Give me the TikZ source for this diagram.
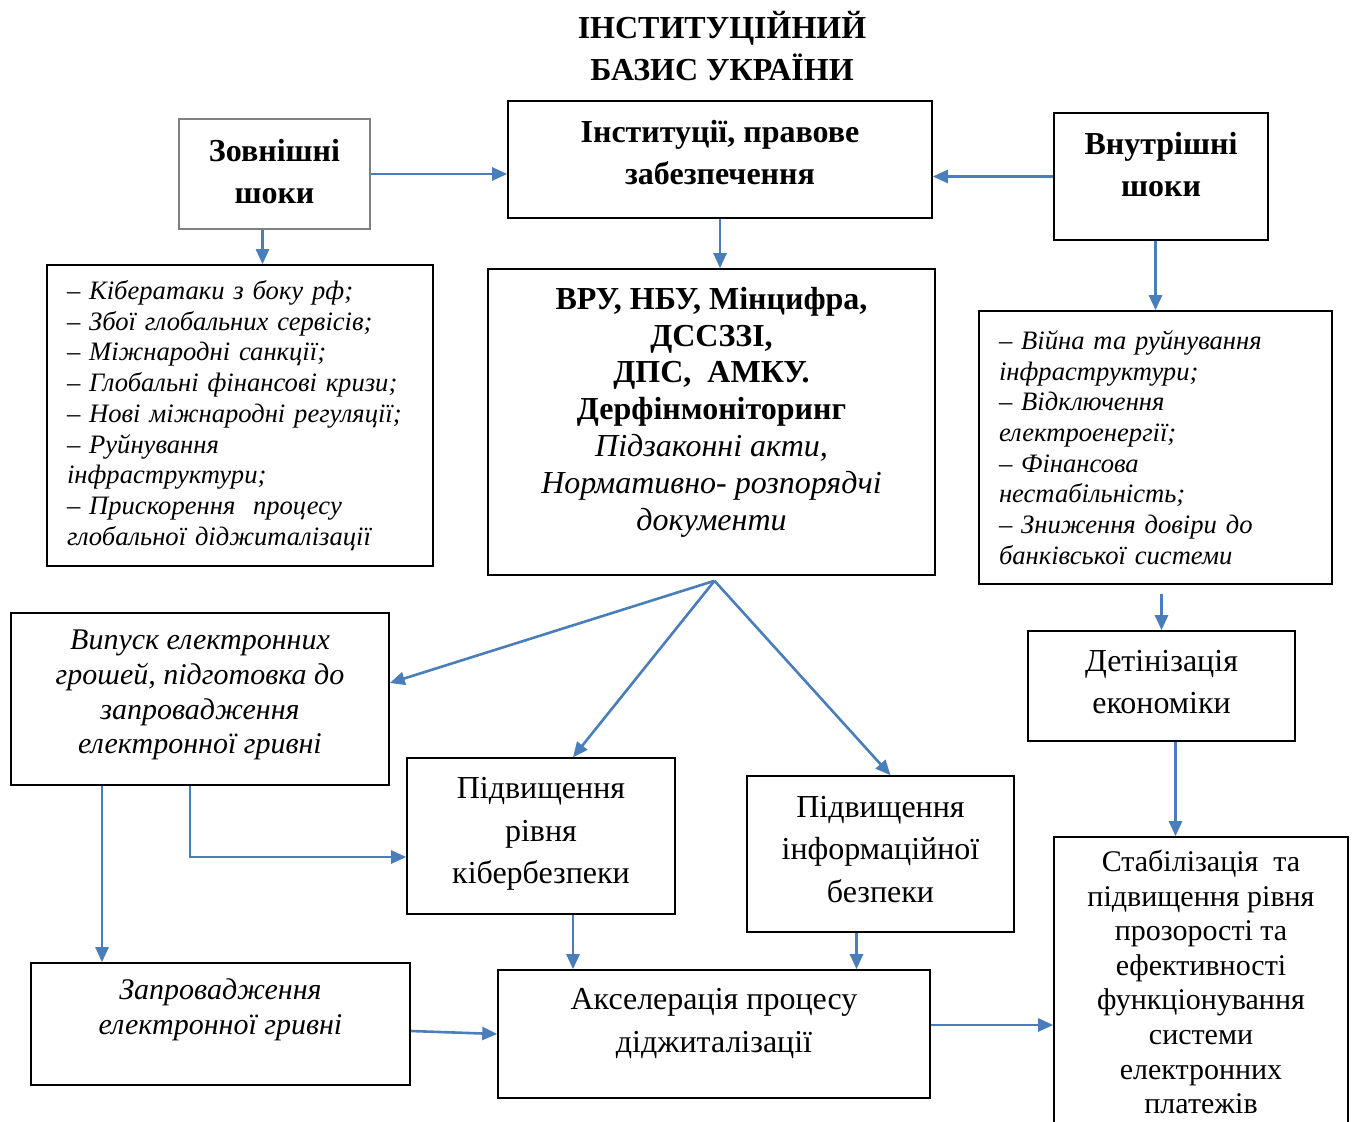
\documentclass[tikz,border=0pt]{standalone}
\usepackage{fontspec}
\setmainfont{Liberation Serif}
\usetikzlibrary{arrows.meta,calc}
\definecolor{arrblue}{RGB}{74,126,187}
\begin{document}
\begin{tikzpicture}[x=0.5pt, y=-0.5pt,
    box/.style={draw, line width=0.8pt, inner sep=0pt, align=center},
    listbox/.style={box, align=left, inner xsep=10pt, font=\fontsize{13.3}{15.35}\selectfont\itshape},
    arr/.style={arrblue, line width=1.3pt, -{Triangle[length=7.5pt,width=6.5pt]}},
    fmid/.style={font=\fontsize{15}{17.3}\selectfont},
    fmidit/.style={font=\fontsize{15}{17.3}\selectfont\itshape},
    fbig/.style={font=\fontsize{16}{21.3}\selectfont},
    fbigbf/.style={font=\fontsize{16}{21.3}\selectfont\bfseries}]
    \useasboundingbox (0,0) rectangle (1352,1122);
    % title
    \node[align=center, fbigbf] (title) at (722,46) {ІНСТИТУЦІЙНИЙ\\БАЗИС УКРАЇНИ};
    % top row
    \node[box, draw=gray, fbigbf, minimum width=95.5pt, minimum height=55pt, text depth=2.5pt] (zovn) at (274.5,174) {Зовнішні\\шоки};
    \node[box, fbigbf, minimum width=212pt, minimum height=58.5pt, text depth=7pt] (instit) at (720,159.5) {Інституції, правове\\забезпечення};
    \node[box, fbigbf, minimum width=107pt, minimum height=63.5pt, text depth=12pt] (vnut) at (1161,176.5) {Внутрішні\\шоки};
    % lists of shocks and bodies
    \node[listbox, text width=173pt, minimum height=150.5pt] (listZ) at (240,415.5)
        {– Кібератаки з боку рф;\\– Збої глобальних сервісів;\\– Міжнародні санкції;\\– Глобальні фінансові кризи;\\– Нові міжнародні регуляції;\\– Руйнування\\інфраструктури;\\– Прискорення\ \ процесу\\глобальної діджиталізації};
    \node[box, font=\fontsize{16}{18.4}\selectfont, minimum width=223.5pt, minimum height=153pt, text depth=13.5pt] (organy) at (711.5,422)
        {\textbf{ВРУ, НБУ, Мінцифра,}\\\textbf{ДССЗЗІ,}\\\textbf{ДПС,\ \ АМКУ.}\\\textbf{Дерфінмоніторинг}\\\textit{Підзаконні акти,}\\\textit{Нормативно- розпорядчі}\\\textit{документи}};
    \node[listbox, text width=156.5pt, minimum height=136.5pt] (listV) at (1155.5,447.5)
        {– Війна та руйнування\\інфраструктури;\\– Відключення\\електроенергії;\\– Фінансова\\нестабільність;\\– Зниження довіри до\\банківської системи};
    % results
    \node[box, fmidit, minimum width=189pt, minimum height=86pt, text depth=7pt] (vypusk) at (200,699)
        {Випуск електронних\\грошей, підготовка до\\запровадження\\електронної гривні};
    \node[box, fbig, minimum width=134pt, minimum height=78pt, text depth=5.5pt] (kiber) at (541,836) {Підвищення\\рівня\\кібербезпеки};
    \node[box, fbig, minimum width=133.5pt, minimum height=78pt, text depth=5pt] (info) at (880.5,854) {Підвищення\\інформаційної\\безпеки};
    \node[box, fbig, minimum width=133.5pt, minimum height=55pt, text depth=4pt] (detin) at (1161.5,686) {Детінізація\\економіки};
    \node[box, fmid, minimum width=147pt, minimum height=145pt] (stab) at (1201,982)
        {Стабілізація\ \ та\\підвищення рівня\\прозорості та\\ефективності\\функціонування\\системи\\електронних\\платежів};
    \node[box, fmidit, minimum width=189.5pt, minimum height=61pt, text depth=17.3pt] (zaprov) at (220.5,1024) {Запровадження\\електронної гривні};
    \node[box, fbig, minimum width=216pt, minimum height=64pt, text depth=13.5pt] (aksel) at (714,1034) {Акселерація процесу\\діджиталізації};
    % arrows
    \coordinate (fan) at ($(organy.south)+(3,5)$);
    \draw[arr] (zovn.east) -- (instit.west |- zovn.east);
    \draw[arr] (vnut.west) -- (instit.east |- vnut.west);
    \draw[arr] ([xshift=-6pt]zovn.south) -- ([xshift=-6pt]zovn.south |- listZ.north);
    \draw[arr] (instit.south) -- (organy.north -| instit.south);
    \draw[arr] (vnut.south -| listV.north) -- (listV.north);
    \draw[arr] (fan) -- ([yshift=8pt]vypusk.east);
    \draw[arr] (fan) -- ([xshift=16pt]kiber.north);
    \draw[arr] (fan) -- ([xshift=5pt]info.north);
    \draw[arr] ([yshift=-4.5pt]listV.south -| detin.north) -- (detin.north);
    \draw[arr] ([xshift=7pt]detin.south) -- ([xshift=7pt]detin.south |- stab.north);
    \draw[arr] ([xshift=-49pt]vypusk.south) -- ([xshift=-49pt]vypusk.south |- zaprov.north);
    \draw[arr] ([xshift=-5pt]vypusk.south) |- ([yshift=-10.5pt]kiber.west);
    \draw[arr] ([xshift=16pt]kiber.south) -- ([xshift=16pt]kiber.south |- aksel.north);
    \draw[arr] ([xshift=-12pt]info.south) -- ([xshift=-12pt]info.south |- aksel.north);
    \draw[arr] ([yshift=-3.5pt]zaprov.east) -- (aksel.west);
    \draw[arr] ([yshift=4.5pt]aksel.east) -- ([yshift=4.5pt]aksel.east -| stab.west);
\end{tikzpicture}
\end{document}
